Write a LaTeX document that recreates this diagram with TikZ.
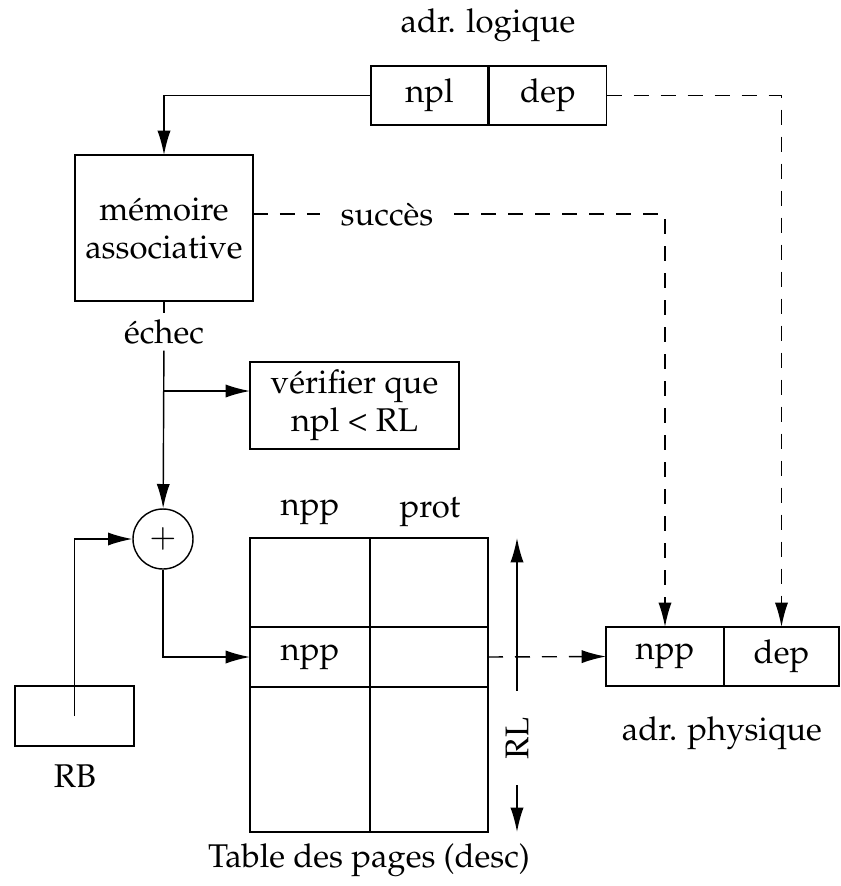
\documentclass[tikz,border=0pt]{standalone}
\usepackage[T1]{fontenc}
\usepackage{mathpazo}
\usepackage{tikz}
\usetikzlibrary{arrows.meta}

\tikzset{
  cell/.style={draw, rectangle, inner sep=0pt, outer sep=0pt},
  pointille/.style={dash pattern=on 5.25pt off 4.2pt},
}

\begin{document}
\begin{tikzpicture}[x=0.35pt, y=-0.35pt, line width=0.5pt,
  >={Latex[length=8.5pt,width=4.6pt]}]
\fontsize{11.5}{13.3}\selectfont
\useasboundingbox (0,0) rectangle (840,886);

\node (titrelog) at (488, 25) [] {adr. logique};
\node (npl) at (429.5, 95.5) [cell, minimum width=41pt, minimum height=20.7pt] {npl};
\node (dep) at (548, 95.5) [cell, minimum width=41pt, minimum height=20.7pt] {dep};

\node (mem) at (164, 228) [cell, minimum width=62.3pt, minimum height=51.1pt, align=center] {m\'emoire\\associative};
\node (succes) at (387, 214) [inner xsep=7pt] {succ\`es};
\node (echec) at (164, 332) [inner ysep=2pt] {\'echec};
\draw[->] (npl.west) -| (mem.north);
\draw[pointille] (mem.east |- succes) -- (succes);
\path (mem) edge (echec);

\coordinate (bras) at (164, 391);
\node (verif) at (354.5, 405.5) [cell, minimum width=73.2pt, minimum height=30.5pt, align=center] {v\'erifier que\\npl \textless{} RL};
\node (plus) at (163, 539) [circle, draw, minimum size=21pt, inner sep=0pt] {$+$};
\path (echec) edge[->] (plus);
\path (bras) edge[->] (verif.west |- bras);

\node (rb) at (74.5, 716) [cell, minimum width=41.7pt, minimum height=21pt] {};
\node (rblab) at (75, 776) [] {RB};
\draw[->] (rb.center) |- (plus);

\node (hnpp) at (310, 512) [] {npp};
\node (hprot) at (430, 512) [] {prot};
\node (t11) at (310, 582.5) [cell, minimum width=42pt, minimum height=31.15pt] {};
\node (t12) at (429, 582.5) [cell, minimum width=41.3pt, minimum height=31.15pt] {};
\node (t21) at (310, 657) [cell, minimum width=42pt, minimum height=21pt] {npp};
\node (t22) at (429, 657) [cell, minimum width=41.3pt, minimum height=21pt] {};
\node (t31) at (310, 759.5) [cell, minimum width=42pt, minimum height=50.75pt] {};
\node (t32) at (429, 759.5) [cell, minimum width=41.3pt, minimum height=50.75pt] {};
\node (tablab) at (369, 860) [] {Table des pages (desc)};
\draw[->] (plus) |- (t21);

\node (rl) at (517, 738) [rotate=90, inner xsep=9pt] {RL};
\path (rl) edge[->] (rl |- t12.north);
\path (rl) edge[->] (rl |- t32.south);

\node (pnpp) at (665, 656.5) [cell, minimum width=41.3pt, minimum height=20.7pt] {npp};
\node (pdep) at (781.5, 656.5) [cell, minimum width=40.3pt, minimum height=20.7pt] {dep};
\node (titrephy) at (722, 733) [] {adr. physique};
\path (t22.east) edge[pointille, ->] (pnpp.west);
\draw[pointille, ->] (succes) -| (pnpp.north);
\draw[pointille, ->] (dep.east) -| (pdep.north);
\end{tikzpicture}
\end{document}
